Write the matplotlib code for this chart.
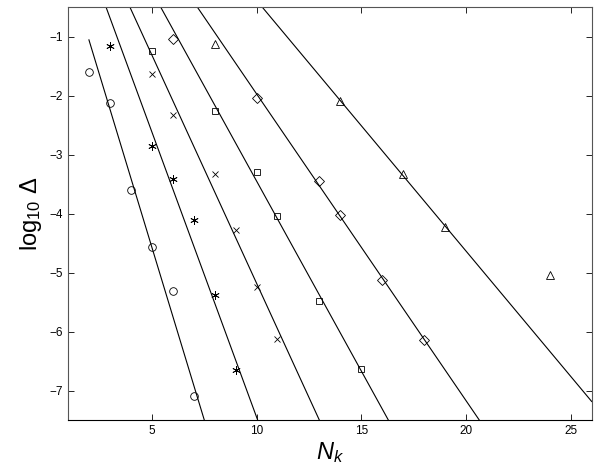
import matplotlib
matplotlib.use('Agg')
import matplotlib.pyplot as plt
import numpy as np

plt.rcParams['font.family'] = ['Liberation Sans', 'DejaVu Sans']
plt.rcParams['mathtext.fontset'] = 'custom'
plt.rcParams['mathtext.rm'] = 'Liberation Sans'
plt.rcParams['mathtext.it'] = 'Liberation Sans:italic'

# Measured points, one series per marker
circ_x = [2, 3, 4, 5, 6, 7]
circ_y = [-1.60, -2.12, -3.59, -4.56, -5.30, -7.08]

star_x = [3, 5, 6, 7, 8, 9]
star_y = [-1.16, -2.85, -3.41, -4.11, -5.37, -6.65]

cross_x = [5, 6, 8, 9, 10, 11]
cross_y = [-1.63, -2.32, -3.32, -4.27, -5.24, -6.13]

sq_x = [5, 8, 10, 11, 13, 15]
sq_y = [-1.24, -2.25, -3.29, -4.03, -5.47, -6.63]

dia_x = [6, 10, 13, 14, 16, 18]
dia_y = [-1.04, -2.03, -3.45, -4.02, -5.12, -6.14]

tri_x = [8, 14, 17, 19, 24]
tri_y = [-1.12, -2.08, -3.32, -4.23, -5.04]

# Fitted lines: y = intercept + slope * x, drawn from x_start
fit_slope = [-1.170, -0.967, -0.774, -0.644, -0.520, -0.425]
fit_intercept = [1.288, 2.227, 2.565, 2.997, 3.234, 3.869]
fit_start = [2.0, 1.0, 1.0, 1.0, 1.0, 1.0]

fig = plt.figure(figsize=(5.99, 4.68), dpi=100)
ax = fig.add_axes([0.1135, 0.1019, 0.8743, 0.8825])

for m, b, x0 in zip(fit_slope, fit_intercept, fit_start):
    xs = np.array([x0, 26.0])
    ax.plot(xs, b + m * xs, '-k', lw=0.8)

mk = dict(linestyle='None', color='k', mfc='none', mew=0.6)
ax.plot(circ_x, circ_y, marker='o', ms=5.5, **mk)
ax.plot(star_x, star_y, marker=(6, 2, 0), ms=6, **mk)
ax.plot(cross_x, cross_y, marker='x', ms=4.5, **mk)
ax.plot(sq_x, sq_y, marker='s', ms=5, **mk)
ax.plot(dia_x, dia_y, marker='D', ms=5, **mk)
ax.plot(tri_x, tri_y, marker='^', ms=6, **mk)

ax.set_xlim(1, 26)
ax.set_ylim(-7.5, -0.5)
ax.set_xticks([5, 10, 15, 20, 25])
ax.set_yticks([-7, -6, -5, -4, -3, -2, -1])
ax.set_yticklabels(['\u22127', '\u22126', '\u22125', '\u22124', '\u22123', '\u22122', '\u22121'])
ax.tick_params(direction='in', top=True, right=True, labelsize=8.5, length=4, width=0.6)
for s in ax.spines.values():
    s.set_linewidth(0.8)
    s.set_color('#555555')
ax.spines['bottom'].set_color('k')

ax.set_xlabel('$N_k$', fontsize=17, labelpad=2)
ax.set_ylabel(r'log$_{\mathregular{10}}$ Δ', fontsize=17, labelpad=4)

fig.savefig('out.png', dpi=100)
